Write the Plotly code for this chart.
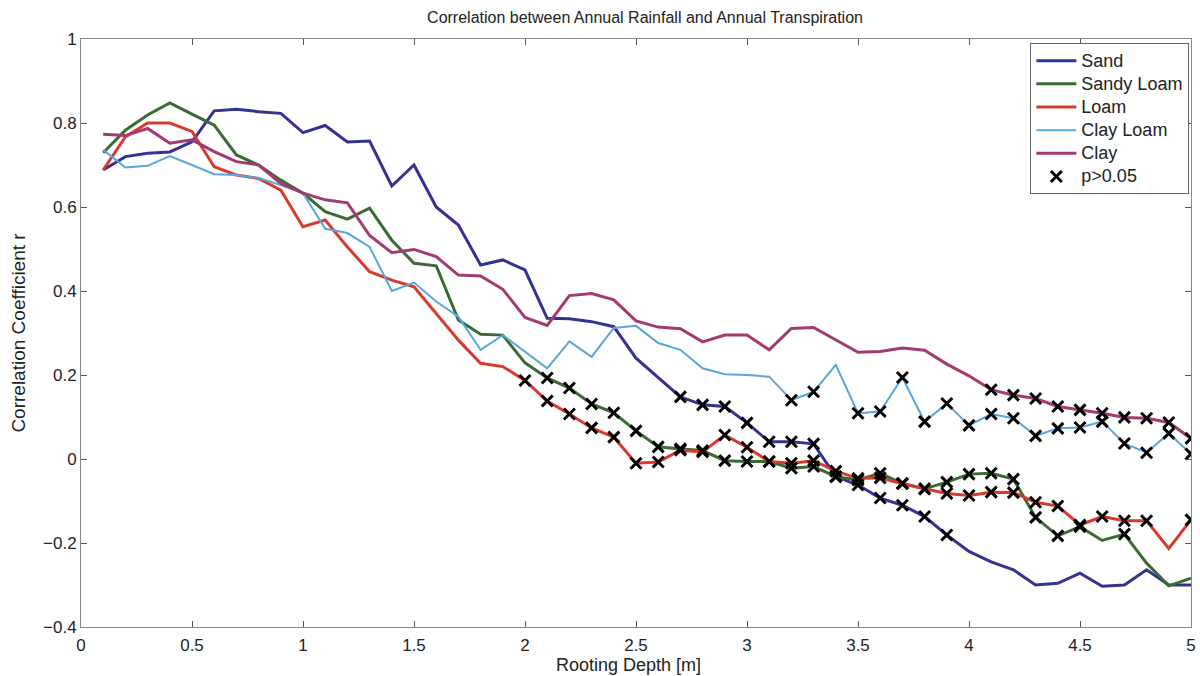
import plotly.graph_objects as go

# Rooting depth [m]
depth = [round(0.1 * i, 1) for i in range(1, 51)]

sand = [0.688, 0.72, 0.728, 0.731, 0.755, 0.829, 0.833, 0.827, 0.823, 0.777,
        0.794, 0.755, 0.757, 0.65, 0.70, 0.60, 0.557, 0.462, 0.474, 0.45,
        0.335, 0.334, 0.327, 0.315, 0.24, 0.193, 0.148, 0.129, 0.125, 0.086,
        0.041, 0.041, 0.036, -0.042, -0.062, -0.093, -0.11, -0.137, -0.181, -0.22,
        -0.245, -0.264, -0.30, -0.296, -0.272, -0.303, -0.30, -0.264, -0.30, -0.30]

sandy_loam = [0.729, 0.783, 0.819, 0.848, 0.821, 0.795, 0.724, 0.70, 0.664, 0.633,
              0.589, 0.571, 0.597, 0.521, 0.466, 0.46, 0.331, 0.297, 0.295, 0.229,
              0.193, 0.169, 0.131, 0.11, 0.067, 0.029, 0.024, 0.02, -0.004, -0.006,
              -0.006, -0.022, -0.018, -0.042, -0.05, -0.034, -0.058, -0.071, -0.055, -0.036,
              -0.034, -0.048, -0.139, -0.183, -0.161, -0.194, -0.179, -0.248, -0.302, -0.284]

loam = [0.688, 0.767, 0.80, 0.80, 0.78, 0.696, 0.676, 0.668, 0.64, 0.553,
        0.569, 0.505, 0.446, 0.426, 0.41, 0.347, 0.283, 0.228, 0.22, 0.187,
        0.138, 0.107, 0.074, 0.052, -0.01, -0.007, 0.021, 0.017, 0.057, 0.028,
        -0.006, -0.01, -0.004, -0.029, -0.046, -0.045, -0.059, -0.071, -0.082, -0.087,
        -0.079, -0.08, -0.103, -0.112, -0.157, -0.137, -0.147, -0.147, -0.213, -0.145]

clay_loam = [0.736, 0.694, 0.698, 0.721, 0.70, 0.678, 0.676, 0.669, 0.652, 0.633,
             0.548, 0.538, 0.505, 0.40, 0.42, 0.375, 0.339, 0.26, 0.295, 0.255,
             0.216, 0.28, 0.243, 0.312, 0.317, 0.276, 0.26, 0.216, 0.202, 0.20,
             0.196, 0.14, 0.16, 0.224, 0.109, 0.113, 0.194, 0.089, 0.132, 0.08,
             0.107, 0.097, 0.055, 0.073, 0.075, 0.089, 0.037, 0.015, 0.061, 0.012]

clay = [0.773, 0.77, 0.787, 0.752, 0.76, 0.732, 0.708, 0.70, 0.656, 0.633,
        0.617, 0.61, 0.532, 0.491, 0.499, 0.482, 0.438, 0.436, 0.404, 0.337,
        0.318, 0.389, 0.394, 0.379, 0.329, 0.314, 0.31, 0.279, 0.295, 0.295,
        0.26, 0.311, 0.313, 0.283, 0.254, 0.256, 0.264, 0.259, 0.226, 0.198,
        0.165, 0.152, 0.144, 0.125, 0.117, 0.109, 0.099, 0.097, 0.087, 0.049]

# Depths at which the correlation is not significant (p > 0.05)
ns_sand = [2.7, 2.8, 2.9, 3.0, 3.1, 3.2, 3.3, 3.4, 3.5, 3.6, 3.7, 3.8, 3.9]
ns_sandy_loam = [2.1, 2.2, 2.3, 2.4, 2.5, 2.6, 2.7, 2.8, 2.9, 3.0, 3.1, 3.2, 3.3,
                 3.4, 3.5, 3.6, 3.7, 3.8, 3.9, 4.0, 4.1, 4.2, 4.3, 4.4, 4.5, 4.7]
ns_loam = [2.0, 2.1, 2.2, 2.3, 2.4, 2.5, 2.6, 2.7, 2.8, 2.9, 3.0, 3.1, 3.2, 3.3,
           3.4, 3.5, 3.6, 3.7, 3.8, 3.9, 4.0, 4.1, 4.2, 4.3, 4.4, 4.5, 4.6, 4.7,
           4.8, 5.0]
ns_clay_loam = [3.2, 3.3, 3.5, 3.6, 3.7, 3.8, 3.9, 4.0, 4.1, 4.2, 4.3, 4.4, 4.5,
                4.6, 4.7, 4.8, 4.9, 5.0]
ns_clay = [4.1, 4.2, 4.3, 4.4, 4.5, 4.6, 4.7, 4.8, 4.9, 5.0]

x_ticks = [0, 0.5, 1, 1.5, 2, 2.5, 3, 3.5, 4, 4.5, 5]
x_tick_text = ["0", "0.5", "1", "1.5", "2", "2.5", "3", "3.5", "4", "4.5", "5"]
y_ticks = [-0.4, -0.2, 0, 0.2, 0.4, 0.6, 0.8, 1]
y_tick_text = ["\u22120.4", "\u22120.2", "0", "0.2", "0.4", "0.6", "0.8", "1"]

series = [
    ("Sand", sand, "#333391", 3, ns_sand),
    ("Sandy Loam", sandy_loam, "#3b6b34", 3, ns_sandy_loam),
    ("Loam", loam, "#d93a2f", 3, ns_loam),
    ("Clay Loam", clay_loam, "#58a6dc", 2, ns_clay_loam),
    ("Clay", clay, "#a33a70", 3, ns_clay),
]

FONT = "Liberation Sans, Arial, sans-serif"


def legend_label(text):
    # larger label text while keeping the compact legend row spacing
    return '<span style="font-size:18px">%s</span>' % text


fig = go.Figure()
mx, my = [], []
for name, vals, color, width, ns in series:
    fig.add_trace(go.Scatter(x=depth, y=vals, mode="lines", name=legend_label(name),
                             line=dict(color=color, width=width)))
    for d in ns:
        mx.append(d)
        my.append(vals[depth.index(d)])

fig.add_trace(go.Scatter(x=mx, y=my, mode="markers", name=legend_label("p>0.05"),
                         marker=dict(symbol="x-thin", size=11, color="black",
                                     line=dict(color="black", width=3))))

axis_common = dict(showgrid=False, zeroline=False, showline=True, mirror="ticks",
                   linecolor="#8a8a8a", linewidth=1, ticks="inside", ticklen=6,
                   automargin=False,
                   tickcolor="#555555", tickfont=dict(family=FONT, size=17, color="#222"))

fig.update_layout(
    width=1200, height=676,
    paper_bgcolor="white", plot_bgcolor="white",
    margin=dict(l=81, r=9, t=39, b=49),
    title=dict(text="Correlation between Annual Rainfall and Annual Transpiration",
               x=0.5375, xanchor="center", y=0.974, yanchor="middle",
               font=dict(family=FONT, size=16, color="#222")),
    xaxis=dict(range=[0, 5], tickvals=x_ticks, ticktext=x_tick_text,
               ticklabelstandoff=3, **axis_common),
    yaxis=dict(range=[-0.4, 1], tickvals=y_ticks, ticktext=y_tick_text,
               title=dict(text="Correlation Coefficient r", standoff=12,
                          font=dict(family=FONT, size=19, color="#222")),
               **axis_common),
    legend=dict(x=0.9985, xanchor="right", y=0.993, yanchor="top",
                bgcolor="white", bordercolor="#666666", borderwidth=1,
                font=dict(family=FONT, size=15.5, color="#222"),
                itemwidth=40, tracegroupgap=0),
    annotations=[dict(text="Rooting Depth [m]", xref="paper", yref="paper",
                      x=0.493, y=-0.064, xanchor="center", yanchor="middle",
                      showarrow=False, font=dict(family=FONT, size=18, color="#222"))],
    showlegend=True,
)

fig.write_html("out.html")
